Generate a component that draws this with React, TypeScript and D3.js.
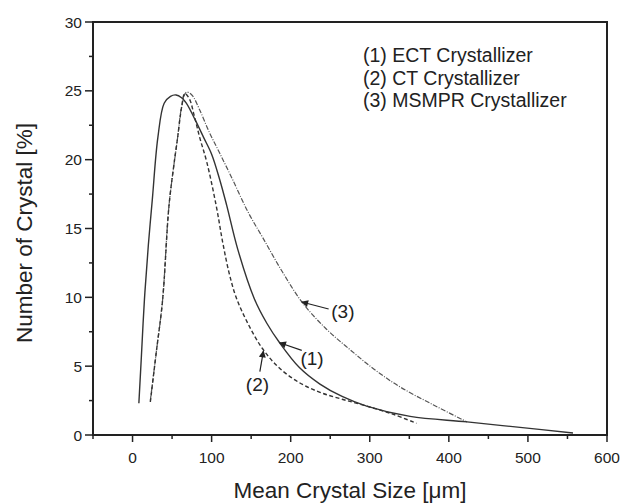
import React from 'react';
import * as d3 from 'd3';

// size distribution curves: [size um, number %]
const ectCurve: [number, number][] = [
  [8, 2.3], [11, 5.5], [15, 9.8], [20, 13.8], [25, 17.1], [32, 21.6], [40, 24.1], [48, 24.6],
  [55, 24.7], [62, 24.5], [68, 24.1], [80, 22.8], [90, 21.6], [100, 20.4], [110, 18.6],
  [119, 16.7], [133, 13.5], [154, 9.9], [170, 8.1], [186, 6.7], [211, 4.9], [237, 3.7],
  [265, 2.8], [296, 2.1], [351, 1.35], [423, 0.95], [490, 0.55], [557, 0.15],
];

const ctCurve: [number, number][] = [
  [22.5, 2.4], [30, 6.0], [38, 9.8], [46, 16.6], [52, 19.5], [57, 21.6], [62, 23.8], [66, 24.8],
  [72, 24.4], [78, 23.2], [85, 21.6], [94, 19.8], [106, 16.6], [114, 14.0], [122, 11.8],
  [131, 10.0], [145, 8.2], [164, 6.3], [185, 4.9], [211, 3.8], [237, 3.1], [265, 2.6],
  [296, 2.1], [330, 1.5], [359, 0.85],
];

const msmprCurve: [number, number][] = [
  [22.5, 2.5], [30, 6.0], [38, 9.8], [46, 16.6], [57, 21.6], [62, 23.8], [68, 24.9], [75, 24.7],
  [85, 23.6], [97, 22.0], [110, 20.5], [127, 18.5], [146, 16.2], [165, 14.3], [190, 11.8],
  [215, 9.6], [245, 7.7], [275, 6.2], [305, 4.8], [338, 3.5], [380, 2.2], [423, 0.95],
];

const legendLines = ['(1) ECT Crystallizer', '(2) CT Crystallizer', '(3) MSMPR Crystallizer'];

// curve labels: text anchor and arrow from -> tip, in data units
const callouts = [
  { label: '(1)', tx: 227, ty: 5.6, x1: 214, y1: 6.15, x2: 186, y2: 6.7 },
  { label: '(2)', tx: 158, ty: 3.7, x1: 161, y1: 4.6, x2: 165.5, y2: 6.1 },
  { label: '(3)', tx: 266, ty: 9.0, x1: 248, y1: 9.15, x2: 214, y2: 9.66 },
];

const xMajor = [0, 100, 200, 300, 400, 500, 600];
const xMinor = [-50, 50, 150, 250, 350, 450, 550];
const yMajor = [0, 5, 10, 15, 20, 25, 30];
const yMinor = [2.5, 7.5, 12.5, 17.5, 22.5, 27.5];

const W = 622;
const H = 503;
const left = 93, right = 607, top = 22, bottom = 435;
const font = '"Liberation Sans", Arial, Helvetica, sans-serif';
const ink = '#222';

export default function App() {
  const x = d3.scaleLinear().domain([-50, 600]).range([left, right]);
  const y = d3.scaleLinear().domain([0, 30]).range([bottom, top]);

  const line = d3
    .line<[number, number]>()
    .x((d) => x(d[0]))
    .y((d) => y(d[1]))
    .curve(d3.curveCatmullRom.alpha(0.5));

  return (
    <svg
      width={W}
      height={H}
      style={{ position: 'absolute', left: 0, top: 0, background: '#fff' }}
      fontFamily={font}
    >
      <defs>
        <marker id="head" viewBox="0 0 10 10" refX="9" refY="5" markerWidth="10" markerHeight="7"
          markerUnits="userSpaceOnUse" orient="auto">
          <path d="M0,0 L10,5 L0,10 z" fill={ink} />
        </marker>
      </defs>

      {/* curves */}
      <path d={line(msmprCurve) || ''} fill="none" stroke="#555" strokeWidth={1.2}
        strokeDasharray="5,1.5,1,1.5" />
      <path d={line(ctCurve) || ''} fill="none" stroke="#333" strokeWidth={1.4}
        strokeDasharray="4,2.5" />
      <path d={line(ectCurve) || ''} fill="none" stroke="#333" strokeWidth={1.4} />

      {/* frame */}
      <rect x={left} y={top} width={right - left} height={bottom - top} fill="none"
        stroke={ink} strokeWidth={2} />

      {/* x axis ticks */}
      {xMajor.map((v) => (
        <g key={'xM' + v}>
          <line x1={x(v)} x2={x(v)} y1={bottom} y2={bottom + 7} stroke={ink} strokeWidth={1.5} />
          <text x={x(v)} y={463} fontSize={15.5} textAnchor="middle" fill={ink}>{v}</text>
        </g>
      ))}
      {xMinor.map((v) => (
        <line key={'xm' + v} x1={x(v)} x2={x(v)} y1={bottom} y2={bottom + 4} stroke={ink} strokeWidth={1.5} />
      ))}

      {/* y axis ticks */}
      {yMajor.map((v) => (
        <g key={'yM' + v}>
          <line x1={left - 8} x2={left} y1={y(v)} y2={y(v)} stroke={ink} strokeWidth={1.5} />
          <text x={82} y={y(v) + 5.5} fontSize={15.5} textAnchor="end" fill={ink}>{v}</text>
        </g>
      ))}
      {yMinor.map((v) => (
        <line key={'ym' + v} x1={left - 4} x2={left} y1={y(v)} y2={y(v)} stroke={ink} strokeWidth={1.5} />
      ))}

      {/* axis titles */}
      <text x={(left + right) / 2} y={498} fontSize={22.5} textAnchor="middle" fill={ink}>
        Mean Crystal Size [μm]
      </text>
      <text transform="translate(32,233) rotate(-90)" fontSize={22.5} textAnchor="middle" fill={ink}>
        Number of Crystal [%]
      </text>

      {/* legend */}
      {legendLines.map((t, i) => (
        <text key={t} x={363} y={62 + i * 22.5} fontSize={19.5} fill={ink}>{t}</text>
      ))}

      {/* callouts */}
      {callouts.map((c) => (
        <g key={c.label}>
          <line x1={x(c.x1)} y1={y(c.y1)} x2={x(c.x2)} y2={y(c.y2)} stroke={ink} strokeWidth={1.2}
            markerEnd="url(#head)" />
          <text x={x(c.tx)} y={y(c.ty) + 7} fontSize={19} textAnchor="middle" fill={ink}>{c.label}</text>
        </g>
      ))}
    </svg>
  );
}
